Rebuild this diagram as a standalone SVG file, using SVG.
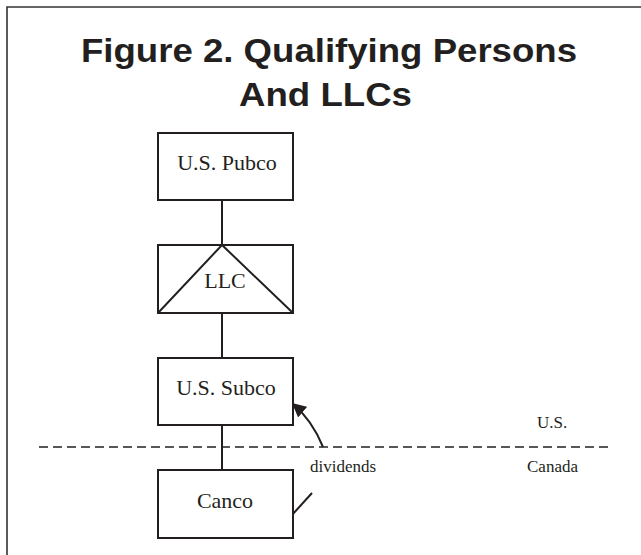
<svg xmlns="http://www.w3.org/2000/svg" width="641" height="555" viewBox="0 0 641 555">
<defs>
<style>
.box{fill:#fff;stroke:#231f20;stroke-width:2}
.ln{fill:none;stroke:#231f20;stroke-width:2}
.lbl{font-family:"Liberation Serif","Times New Roman",serif;font-size:22px;fill:#231f20;text-anchor:middle}
.sm{font-family:"Liberation Serif","Times New Roman",serif;font-size:17px;fill:#231f20}
.title{font-family:"Liberation Sans",Arial,sans-serif;font-weight:bold;font-size:34px;fill:#231f20;text-anchor:middle}
</style>
<marker id="ah" viewBox="0 0 10 10" refX="9" refY="5" markerWidth="14" markerHeight="14" markerUnits="userSpaceOnUse" orient="auto">
<path d="M0,0 L10,5 L0,10 z" fill="#231f20"/>
</marker>
</defs>
<rect width="641" height="555" fill="#fff"/>
<g id="frame">
<path d="M7,555 V7 H641" fill="none" stroke="#333" stroke-width="1.6"/>
</g>
<g id="title">
<text class="title" x="329" y="62" textLength="496" lengthAdjust="spacingAndGlyphs">Figure 2. Qualifying Persons</text>
<text class="title" x="325.5" y="106" textLength="173" lengthAdjust="spacingAndGlyphs">And LLCs</text>
</g>
<g id="connectors">
<line class="ln" x1="222" y1="200" x2="222" y2="245"/>
<line class="ln" x1="222" y1="313" x2="222" y2="358"/>
<line class="ln" x1="222" y1="425" x2="222" y2="470"/>
<line x1="39" y1="447" x2="610" y2="447" stroke="#231f20" stroke-width="1.6" stroke-dasharray="9 5"/>
<path class="ln" d="M323,447 Q312,420 293,404" marker-end="url(#ah)"/>
<line class="ln" x1="292" y1="515" x2="312" y2="493"/>
</g>
<g id="pubco">
<rect class="box" x="158" y="133" width="135" height="67"/>
<text class="lbl" x="227" y="170">U.S. Pubco</text>
</g>
<g id="llc">
<rect class="box" x="158" y="245" width="135" height="68"/>
<path class="ln" d="M158,313 L222,245 L293,313"/>
<text class="lbl" x="225" y="288">LLC</text>
</g>
<g id="subco">
<rect class="box" x="158" y="358" width="135" height="67"/>
<text class="lbl" x="226" y="395">U.S. Subco</text>
</g>
<g id="canco">
<rect class="box" x="158" y="470" width="135" height="68"/>
<text class="lbl" x="225" y="508">Canco</text>
</g>
<g id="labels">
<text class="sm" x="310" y="472">dividends</text>
<text class="sm" x="537" y="428">U.S.</text>
<text class="sm" x="527" y="472">Canada</text>
</g>
</svg>
